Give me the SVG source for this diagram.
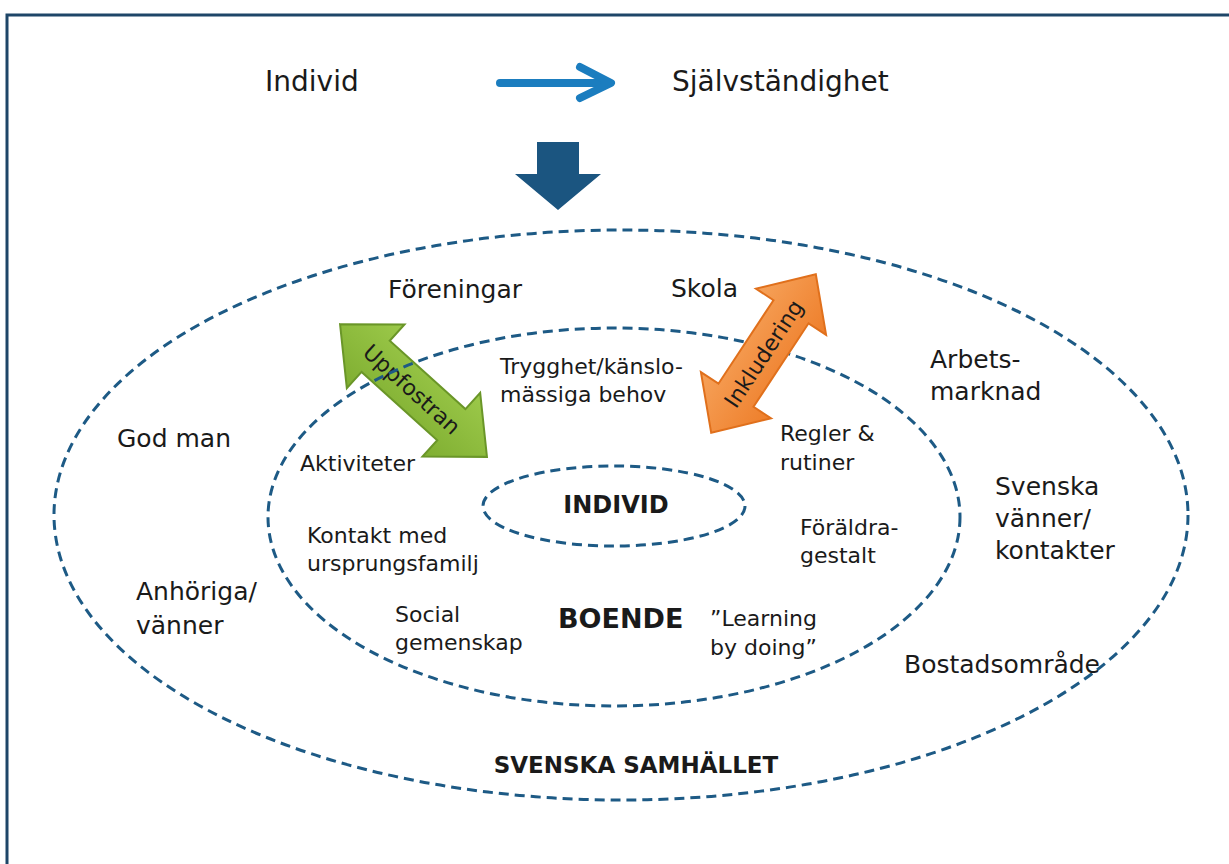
<svg xmlns="http://www.w3.org/2000/svg" width="1229" height="864" viewBox="0 0 1229 864">
<defs>
<style>
text{font-family:"DejaVu Sans","Liberation Sans",sans-serif;fill:#1a1a1a;}
.top{font-size:28px;}
.out{font-size:25px;}
.in{font-size:22px;}
.b{font-weight:bold;}
.ring{fill:none;stroke:#1d5a85;stroke-width:3;stroke-dasharray:10 6;}
.arrowtxt{font-size:22px;}
</style>
<linearGradient id="gGreen" x1="0" y1="0" x2="0" y2="1"><stop offset="0" stop-color="#9cc94a"/><stop offset="1" stop-color="#7fae31"/></linearGradient>
<linearGradient id="gOrange" x1="0" y1="0" x2="0" y2="1"><stop offset="0" stop-color="#f6a25a"/><stop offset="1" stop-color="#ee7e2a"/></linearGradient>
</defs>
<rect width="1229" height="864" fill="#ffffff"/>
<path d="M7,864 V15 H1229" fill="none" stroke="#1e4668" stroke-width="3"/>

<g id="top-row">
<text class="top" x="265" y="91">Individ</text>
<text class="top" x="672" y="91">Självständighet</text>
</g>

<g id="connectors">
<g id="arrow-right">
<line x1="500" y1="83" x2="608" y2="83" stroke="#1b7dbf" stroke-width="8" stroke-linecap="round"/>
<polyline points="580,67 611,83 580,98" fill="none" stroke="#1b7dbf" stroke-width="8" stroke-linecap="round" stroke-linejoin="round"/>
</g>
<path id="arrow-down" d="M537,142 H579 V174 H601 L558,210 L515,174 H537 Z" fill="#1b5580"/>
</g>

<g id="ring-outer">
<ellipse class="ring" cx="621" cy="515" rx="567" ry="285"/>
</g>

<g id="uppfostran">
<g transform="translate(413.5,390.5) rotate(42.1)">
<path d="M-99,0 L-51,-43 L-51,-21 L51,-21 L51,-43 L99,0 L51,43 L51,21 L-51,21 L-51,43 Z" fill="url(#gGreen)" stroke="#6a9628" stroke-width="2" stroke-linejoin="miter"/>
<text class="arrowtxt" x="-2" y="8" text-anchor="middle">Uppfostran</text>
</g>
</g>

<g id="ring-boende">
<ellipse class="ring" cx="614" cy="517" rx="346" ry="189"/>
</g>

<g id="ring-individ">
<ellipse class="ring" cx="614" cy="506" rx="131" ry="40"/>
<text class="b" x="616" y="513" text-anchor="middle" style="font-size:24px">INDIVID</text>
</g>

<g id="inkludering">
<g transform="translate(763.5,353.5) rotate(-56.6)">
<path d="M-95,0 L-50,-42 L-50,-21 L50,-21 L50,-42 L95,0 L50,42 L50,21 L-50,21 L-50,42 Z" fill="url(#gOrange)" stroke="#e0701c" stroke-width="2" stroke-linejoin="miter"/>
<text class="arrowtxt" x="0" y="8" text-anchor="middle">Inkludering</text>
</g>
</g>

<g id="labels-outer">
<text class="out" x="388" y="298">Föreningar</text>
<text class="out" x="671" y="297">Skola</text>
<text class="out" x="930" y="368">Arbets-</text>
<text class="out" x="930" y="400">marknad</text>
<text class="out" x="117" y="447">God man</text>
<text class="out" x="995" y="495">Svenska</text>
<text class="out" x="995" y="527">vänner/</text>
<text class="out" x="995" y="559">kontakter</text>
<text class="out" x="136" y="600">Anhöriga/</text>
<text class="out" x="136" y="634">vänner</text>
<text class="out" x="904" y="673">Bostadsområde</text>
<text class="b" x="636" y="773" text-anchor="middle" style="font-size:23px">SVENSKA SAMHÄLLET</text>
</g>

<g id="labels-boende">
<text class="in" x="500" y="374">Trygghet/känslo-</text>
<text class="in" x="500" y="402">mässiga behov</text>
<text class="in" x="300" y="471">Aktiviteter</text>
<text class="in" x="780" y="441">Regler &amp;</text>
<text class="in" x="780" y="470">rutiner</text>
<text class="in" x="307" y="543">Kontakt med</text>
<text class="in" x="307" y="571">ursprungsfamilj</text>
<text class="in" x="800" y="535">Föräldra-</text>
<text class="in" x="800" y="563">gestalt</text>
<text class="in" x="395" y="622">Social</text>
<text class="in" x="395" y="650">gemenskap</text>
<text class="b" x="558" y="628" style="font-size:27px">BOENDE</text>
<text class="in" x="710" y="626">”Learning</text>
<text class="in" x="710" y="655">by doing”</text>
</g>
</svg>
